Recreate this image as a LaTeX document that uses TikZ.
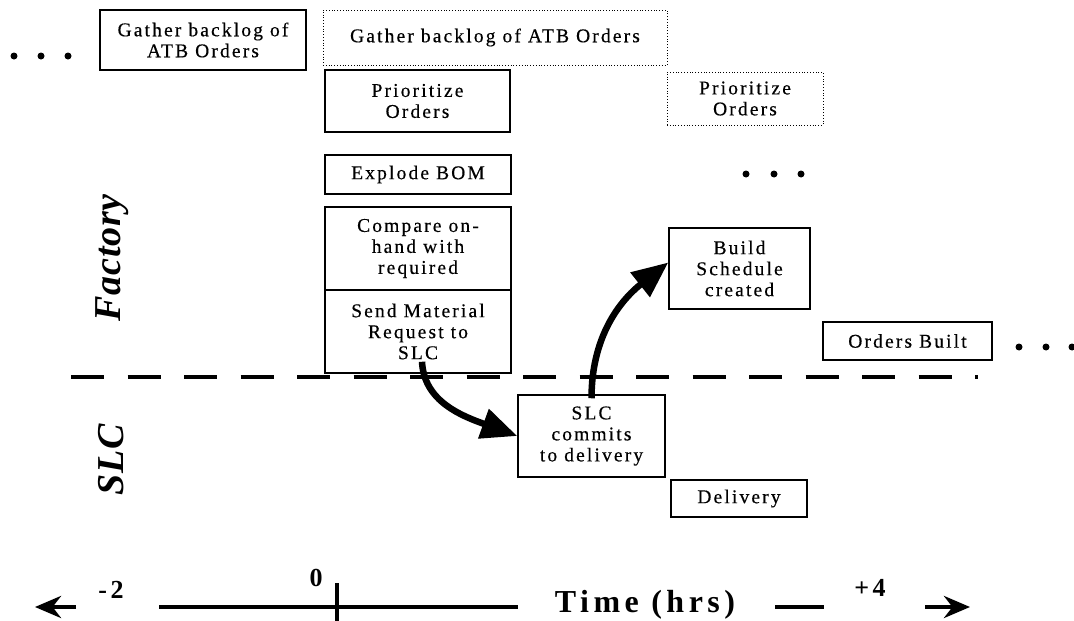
\documentclass[tikz,border=0pt]{standalone}
\usepackage{fontspec}
\setmainfont{Liberation Serif}
\newfontfamily\boxfont[LetterSpace=11,FakeBold=0.4]{Liberation Serif}
\newfontfamily\lanefont[LetterSpace=2]{Liberation Serif}
\newfontfamily\axisfont[LetterSpace=14]{Liberation Serif}
\usetikzlibrary{arrows.meta}

\begin{document}
\begin{tikzpicture}[x=1pt, y=-1pt,
task/.style={draw=black, line width=1.5pt, inner sep=0pt, align=center, font=\boxfont\fontsize{19.5}{21}\selectfont},
future/.style={task, line width=0.8pt, dotted},
lane/.style={rotate=90, font=\lanefont\fontsize{38}{44}\selectfont\bfseries\itshape},
hour/.style={font=\axisfont\bfseries\fontsize{26}{30}\selectfont},
handoff/.style={line width=6.5pt, -{Triangle[length=36pt,width=30pt]}},
axis/.style={line width=4.5pt}
]
\useasboundingbox (0,0) rectangle (1074,621);

% factory side
\node[task, minimum width=206pt, minimum height=60pt](gatherOld) at (203,40) {Gather backlog of\\ATB Orders};
\node[future, minimum width=344pt, minimum height=55pt](gatherNow) at (495,37.5) {Gather backlog of ATB Orders};
\node[task, minimum width=185pt, minimum height=62pt](prioNow) at (417.5,101) {Prioritize\\Orders};
\node[future, minimum width=156pt, minimum height=53pt](prioNext) at (745,98.5) {Prioritize\\Orders};
\node[task, minimum width=186pt, minimum height=39pt](explode) at (418,174.5) {Explode BOM};
\node[task, minimum width=186pt, minimum height=83pt](compare) at (418,248.5) {Compare on-\\hand with\\required};
\node[task, minimum width=186pt, minimum height=83pt](send) at (418,331.5) {Send Material\\Request to\\SLC};
\node[task, minimum width=141pt, minimum height=81pt](build) at (739.5,268.5) {Build\\Schedule\\created};
\node[task, minimum width=169pt, minimum height=38pt](built) at (907.5,341) {Orders Built};

% slc side
\node[task, minimum width=147pt, minimum height=82pt](commit) at (591.5,436) {SLC\\commits\\to delivery};
\node[task, minimum width=136pt, minimum height=37pt](delivery) at (739,498.5) {Delivery};

\node[lane](factoryLbl) at (112,258) {Factory};
\node[lane](slcLbl) at (111,460) {SLC};

\foreach \x in {14,41,68} \fill (\x,56) circle (3.5pt);
\foreach \x in {746,774,801} \fill (\x,174) circle (3.5pt);
\foreach \x in {1019,1046,1072} \fill (\x,347) circle (3.5pt);

% divider
\coordinate (divL) at (71,377);
\coordinate (divR) at (978,377);
\draw[line width=4.5pt, dash pattern=on 33pt off 23.5pt] (divL) -- (divR);

\draw[handoff] ([xshift=4pt,yshift=12pt]send.south) .. controls +(2,40) and +(-55,-20) .. (commit.west);
\draw[handoff] ([yshift=-4pt]commit.north) .. controls +(0,-62) and +(-48,38) .. ([yshift=6pt]build.west);

% time axis
\coordinate (leftStart) at (76,607);
\coordinate (leftEnd) at (35,607);
\coordinate (lineA) at (159,607);
\coordinate (zero) at (337,607);
\coordinate (lineB) at (518,607);
\coordinate (zeroTop) at (337,583);
\coordinate (zeroBot) at (337,621);
\coordinate (shortA) at (775,607);
\coordinate (shortB) at (824,607);
\coordinate (rightStart) at (925,607);
\coordinate (rightEnd) at (970,607);

\draw[axis, -{Stealth[length=26pt,width=22pt]}] (leftStart) -- (leftEnd);
\draw[axis] (lineA) -- (zero) -- (lineB);
\draw[axis] (zeroTop) -- (zeroBot);
\draw[axis] (shortA) -- (shortB);
\draw[axis, -{Stealth[length=26pt,width=22pt]}] (rightStart) -- (rightEnd);

\node[hour](minusTwo) at (111,590) {-2};
\node[hour](zeroLbl) at (316,578) {0};
\node[hour](plusFour) at (870,588) {+4};
\node[font=\axisfont\bfseries\fontsize{32}{36}\selectfont](time) at (645,605) {Time (hrs)};
\end{tikzpicture}
\end{document}
